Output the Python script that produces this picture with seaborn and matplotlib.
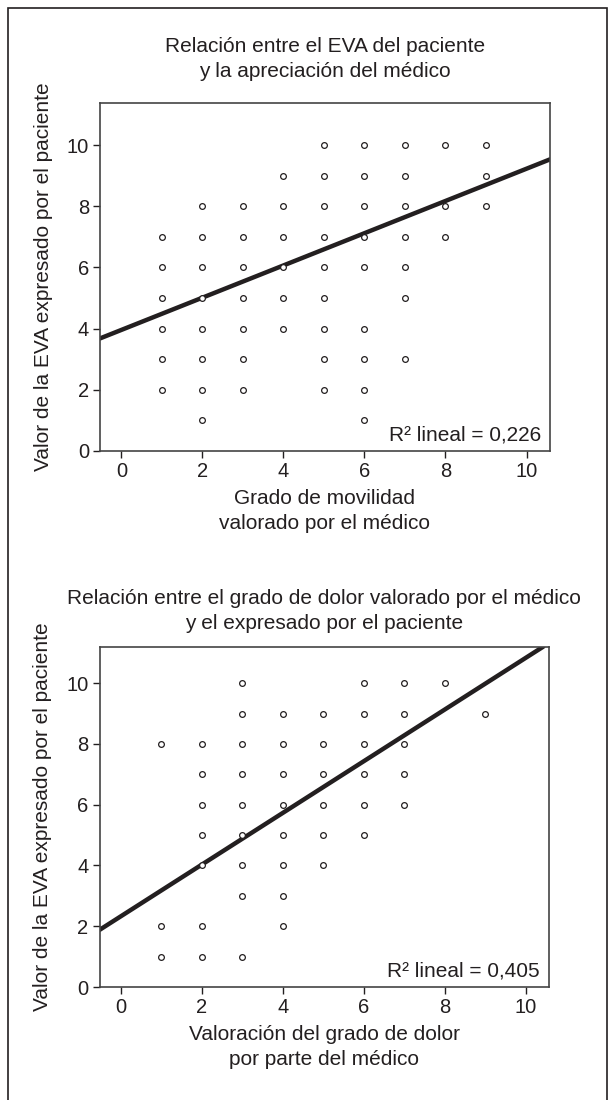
import pandas as pd
import matplotlib.pyplot as plt
import seaborn as sns
from matplotlib.patches import Rectangle

# --- data ---
# top panel: mobility grade (x) vs patient EVA (y), one list of y per x column
mov_columns = {
    1: [2, 3, 4, 5, 6, 7],
    2: [1, 2, 3, 4, 5, 6, 7, 8],
    3: [2, 3, 4, 5, 6, 7, 8],
    4: [4, 5, 6, 7, 8, 9],
    5: [2, 3, 4, 5, 6, 7, 8, 9, 10],
    6: [1, 2, 3, 4, 6, 7, 8, 9, 10],
    7: [3, 5, 6, 7, 8, 9, 10],
    8: [7, 8, 10],
    9: [8, 9, 10],
}
mov_fit = (3.96, 0.527)  # intercept, slope
mov_r2 = "0,226"

# bottom panel: physician pain grade (x) vs patient EVA (y)
pain_columns = {
    1: [1, 2, 8],
    2: [1, 2, 4, 5, 6, 7, 8],
    3: [1, 3, 4, 5, 6, 7, 8, 9, 10],
    4: [2, 3, 4, 5, 6, 7, 8, 9],
    5: [4, 5, 6, 7, 8, 9],
    6: [5, 6, 7, 8, 9, 10],
    7: [6, 7, 8, 9, 10],
    8: [10],
    9: [9],
}
pain_fit = (2.33, 0.85)
pain_r2 = "0,405"

titles = ["Relación entre el EVA del paciente\ny la apreciación del médico",
          "Relación entre el grado de dolor valorado por el médico\ny el expresado por el paciente"]
xlabels = ["Grado de movilidad\nvalorado por el médico",
           "Valoración del grado de dolor\npor parte del médico"]
ylabel = "Valor de la EVA expresado por el paciente"
xticks = [0, 2, 4, 6, 8, 10]
yticks = [0, 2, 4, 6, 8, 10]


def to_frame(cols):
    rows = [(x, y) for x, ys in cols.items() for y in ys]
    return pd.DataFrame(rows, columns=["x", "y"])


sns.set_style("white")
plt.rcParams['font.family'] = ['Liberation Sans', 'DejaVu Sans']
ink = "#231f20"
plt.rcParams['text.color'] = ink
plt.rcParams['axes.labelcolor'] = ink
plt.rcParams['xtick.color'] = ink
plt.rcParams['ytick.color'] = ink

fs = 15

fig = plt.figure(figsize=(6.15, 11), dpi=100)
fig.patches.append(Rectangle((8 / 615, -0.01), 599 / 615, 1 - 8 / 1100 + 0.01,
                             transform=fig.transFigure, fill=False,
                             edgecolor=ink, linewidth=1.2))

ax_top = fig.add_axes([0.1626, 0.59, 0.7317, 0.3164])
ax_bot = fig.add_axes([0.1618, 0.1027, 0.731, 0.3094])

panels = [
    (ax_top, to_frame(mov_columns), mov_fit, mov_r2, (0, 11.38), 19),
    (ax_bot, to_frame(pain_columns), pain_fit, pain_r2, (0, 11.2), 13),
]

for i, (ax, df, fit, r2, ylim, tpad) in enumerate(panels):
    sns.scatterplot(data=df, x="x", y="y", ax=ax, marker="o", s=17,
                    facecolor="white", edgecolor=ink, linewidth=0.9, zorder=3)
    ax.axline((0, fit[0]), slope=fit[1], color=ink, linewidth=3.2, zorder=2)
    ax.set_xlim(-0.53, 10.58)
    ax.set_ylim(*ylim)
    ax.set_xticks(xticks)
    ax.set_yticks(yticks)
    ax.tick_params(axis="both", labelsize=14.5, length=5, width=1,
                   direction="out", bottom=True, left=True, pad=3)
    for sp in ax.spines.values():
        sp.set_color("#444444")
        sp.set_linewidth(1.2)
    ax.set_title(titles[i], fontsize=fs, pad=tpad, linespacing=1.35)
    ax.set_xlabel(xlabels[i], fontsize=fs, labelpad=6, linespacing=1.35)
    ax.set_ylabel(ylabel, fontsize=fs, labelpad=10)
    ax.text(0.98, 0.02, "R² lineal = " + r2, transform=ax.transAxes,
            ha="right", va="bottom", fontsize=fs)

plt.savefig("out.png", dpi=100)
